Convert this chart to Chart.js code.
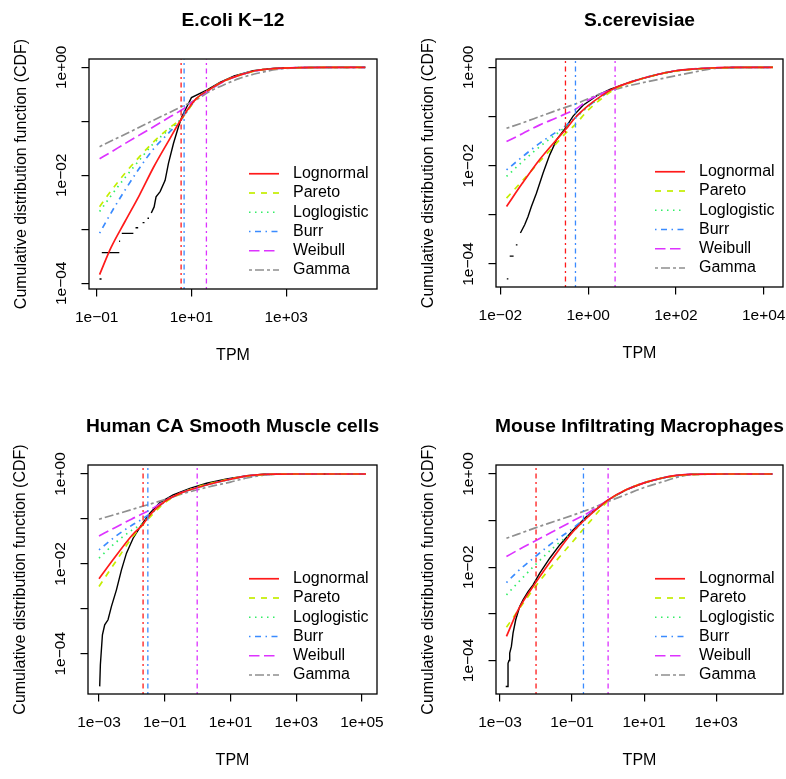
<!DOCTYPE html>
<html><head><meta charset="utf-8">
<script src="https://cdn.jsdelivr.net/npm/chart.js@4.4.1/dist/chart.umd.min.js"></script>
<style>
html,body{margin:0;padding:0;background:#fff;width:786px;height:779px;overflow:hidden;position:relative;}
canvas{position:absolute;}
</style></head><body>
<canvas id="c1"></canvas><canvas id="c2"></canvas><canvas id="c3"></canvas><canvas id="c4"></canvas>
<script>
// ---------------- DATA ----------------
const distNames = ['Lognormal','Pareto','Loglogistic','Burr','Weibull','Gamma'];
const panelTitles = ['E.coli K\u221212', 'S.cerevisiae', 'Human CA Smooth Muscle cells', 'Mouse Infiltrating Macrophages'];
const xAxisTitle = 'TPM';
const yAxisTitle = 'Cumulative distribution function (CDF)';

const cdfTicks = [1e-4, 1e-3, 1e-2, 1e-1, 1];
const cdfTickLabels = ['1e\u221204', '', '1e\u221202', '', '1e+00'];

// E.coli K-12
const ecoliXTicks = [0.1, 10, 1000];
const ecoliXTickLabels = ['1e\u221201', '1e+01', '1e+03'];
const ecoliTPM = [0.115, 0.2, 0.398, 0.794, 1.585, 3.2, 6.31, 12.6, 25.1, 50.1, 100, 251, 631, 2000, 10000, 46800];
const ecoliLognormal = [1.45e-4, 4.57e-4, 1.41e-3, 4.27e-3, 0.0141, 0.0417, 0.115, 0.263, 0.398, 0.562, 0.708, 0.881, 0.955, 0.989, 0.998, 1];
const ecoliPareto = [2.63e-3, 5.13e-3, 0.011, 0.0219, 0.0417, 0.0724, 0.115, 0.257, 0.398, 0.562, 0.708, 0.875, 0.951, 0.984, 0.9965, 1];
const ecoliLoglogistic = [2.14e-3, 4.17e-3, 9.12e-3, 0.0191, 0.0389, 0.0676, 0.115, 0.26, 0.398, 0.562, 0.708, 0.877, 0.953, 0.986, 0.997, 1];
const ecoliBurr = [8.5e-4, 2.0e-3, 5.37e-3, 0.0135, 0.0309, 0.0589, 0.112, 0.26, 0.398, 0.562, 0.708, 0.877, 0.953, 0.986, 0.997, 1];
const ecoliWeibull = [0.0202, 0.0269, 0.0389, 0.0555, 0.0794, 0.115, 0.164, 0.257, 0.389, 0.55, 0.708, 0.871, 0.955, 0.991, 0.999, 1];
const ecoliGamma = [0.0339, 0.0432, 0.0575, 0.0776, 0.105, 0.141, 0.188, 0.251, 0.363, 0.479, 0.617, 0.776, 0.912, 0.982, 0.999, 1];
const ecoliObsTPM = [0.1145, 0.1265, null, 0.128, 0.30, null, 0.297, 0.312, null, 0.338, 0.594, null, 0.66, 0.75, null, 0.93, 1.02, null, 1.18, 1.27, null, 1.42, 1.63, 1.79, 2.18, 2.78, 3.27, 4.17, 5.32, 6.27, 8.0, 10, 21, 40, 80, 200, 630, 3160, 46800];
const ecoliObsCDF = [1.2e-4, 1.2e-4, null, 3.7e-4, 3.7e-4, null, 6.0e-4, 6.0e-4, null, 8.4e-4, 8.4e-4, null, 1.07e-3, 1.07e-3, null, 1.33e-3, 1.33e-3, null, 1.6e-3, 1.6e-3, null, 2.0e-3, 2.6e-3, 4.0e-3, 5.0e-3, 8.1e-3, 0.0166, 0.0389, 0.0794, 0.1216, 0.186, 0.275, 0.38, 0.525, 0.69, 0.87, 0.972, 0.995, 1];
const ecoliVLineTPM = [6.05, 7.0, 20.7];
const ecoliVLineDist = ['Lognormal', 'Burr', 'Weibull'];

// S.cerevisiae
const yeastXTicks = [0.01, 1, 100, 10000];
const yeastXTickLabels = ['1e\u221202', '1e+00', '1e+02', '1e+04'];
const yeastTPM = [0.0138, 0.0316, 0.0794, 0.2, 0.316, 0.5, 1, 2, 3.63, 10, 40, 100, 251, 631, 2000, 16200];
const yeastLognormal = [1.48e-3, 4.37e-3, 0.0135, 0.0355, 0.0562, 0.0933, 0.166, 0.263, 0.363, 0.513, 0.724, 0.851, 0.923, 0.968, 0.993, 1];
const yeastPareto = [2.19e-3, 4.9e-3, 0.0123, 0.0302, 0.0468, 0.0676, 0.135, 0.229, 0.339, 0.501, 0.716, 0.841, 0.912, 0.959, 0.986, 0.998];
const yeastLoglogistic = [6.03e-3, 0.012, 0.0245, 0.0457, 0.0631, 0.0912, 0.158, 0.251, 0.355, 0.513, 0.724, 0.847, 0.918, 0.964, 0.989, 0.998];
const yeastBurr = [8.2e-3, 0.0151, 0.0288, 0.0501, 0.0661, 0.0955, 0.162, 0.254, 0.355, 0.513, 0.724, 0.847, 0.918, 0.964, 0.989, 0.998];
const yeastWeibull = [0.0309, 0.0447, 0.0676, 0.0955, 0.115, 0.138, 0.214, 0.288, 0.363, 0.513, 0.724, 0.851, 0.927, 0.973, 0.995, 1];
const yeastGamma = [0.0575, 0.0741, 0.1, 0.135, 0.155, 0.178, 0.229, 0.295, 0.347, 0.437, 0.569, 0.676, 0.794, 0.933, 0.991, 1];
const yeastObsTPM = [0.0140, 0.0152, null, 0.0163, 0.0200, null, 0.0225, 0.0245, null, 0.0286, 0.0358, 0.0427, 0.0509, 0.0662, 0.094, 0.133, 0.19, 0.293, 0.454, 0.767, 1.55, 3.12, 10, 40, 100, 251, 631, 2000, 16200];
const yeastObsCDF = [5.0e-5, 5.0e-5, null, 1.45e-4, 1.45e-4, null, 2.45e-4, 2.45e-4, null, 4.27e-4, 6.28e-4, 9.3e-4, 1.48e-3, 2.75e-3, 7.08e-3, 0.0166, 0.0334, 0.0562, 0.102, 0.17, 0.263, 0.355, 0.519, 0.724, 0.851, 0.923, 0.968, 0.993, 1];
const yeastVLineTPM = [0.304, 0.514, 4.11];
const yeastVLineDist = ['Lognormal', 'Burr', 'Weibull'];

// Human CA Smooth Muscle cells
const humanXTicks = [0.001, 0.1, 10, 1000, 100000];
const humanXTickLabels = ['1e\u221203', '1e\u221201', '1e+01', '1e+03', '1e+05'];
const humanTPM = [0.001, 0.00316, 0.01, 0.0209, 0.0398, 0.1, 0.316, 1, 3.16, 10, 31.6, 100, 316, 1000, 132000];
const humanLognormal = [4.65e-3, 0.0145, 0.0427, 0.0736, 0.135, 0.245, 0.38, 0.501, 0.631, 0.764, 0.904, 0.977, 0.995, 1, 1];
const humanPareto = [3.13e-3, 0.011, 0.038, 0.0724, 0.12, 0.229, 0.372, 0.513, 0.646, 0.776, 0.891, 0.966, 0.991, 0.998, 1];
const humanLoglogistic = [0.0134, 0.0295, 0.0562, 0.0794, 0.132, 0.24, 0.38, 0.501, 0.631, 0.759, 0.891, 0.966, 0.991, 0.998, 1];
const humanBurr = [0.0205, 0.0407, 0.0724, 0.1, 0.138, 0.24, 0.38, 0.501, 0.631, 0.759, 0.891, 0.966, 0.991, 0.998, 1];
const humanWeibull = [0.0419, 0.0646, 0.1, 0.13, 0.166, 0.251, 0.38, 0.501, 0.631, 0.767, 0.902, 0.977, 0.995, 1, 1];
const humanGamma = [0.0984, 0.126, 0.162, 0.191, 0.219, 0.269, 0.355, 0.447, 0.55, 0.661, 0.813, 0.944, 0.993, 1, 1];
const humanObsTPM = [1.05e-3, 1.10e-3, 1.27e-3, 1.49e-3, 1.88e-3, 2.39e-3, 3.39e-3, 4.82e-3, 6.84e-3, 0.0109, 0.0196, 0.0352, 0.071, 0.18, 0.582, 1.88, 7.66, 31.2, 100, 1000, 132000];
const humanObsCDF = [1.88e-5, 5.7e-5, 2.64e-4, 4.41e-4, 5.7e-4, 1.13e-3, 2.64e-3, 7.36e-3, 0.0173, 0.0372, 0.0736, 0.134, 0.231, 0.341, 0.48, 0.621, 0.776, 0.918, 0.989, 1, 1];
const humanVLineTPM = [0.0219, 0.0306, 0.97];
const humanVLineDist = ['Lognormal', 'Burr', 'Weibull'];

// Mouse Infiltrating Macrophages
const mouseXTicks = [0.001, 0.1, 10, 1000];
const mouseXTickLabels = ['1e\u221203', '1e\u221201', '1e+01', '1e+03'];
const mouseTPM = [1.51e-3, 3.16e-3, 0.01, 0.0316, 0.1, 0.316, 1, 3.16, 10, 31.6, 79.4, 200, 631, 3160, 36300];
const mouseLognormal = [3.27e-4, 1.2e-3, 4.79e-3, 0.017, 0.055, 0.133, 0.277, 0.457, 0.646, 0.822, 0.933, 0.982, 0.998, 1, 1];
const mousePareto = [5.13e-4, 1.17e-3, 4.0e-3, 0.0121, 0.0341, 0.0962, 0.263, 0.457, 0.646, 0.813, 0.912, 0.966, 0.989, 0.9965, 0.9993];
const mouseLoglogistic = [2.55e-3, 4.68e-3, 0.0117, 0.0271, 0.0558, 0.132, 0.275, 0.457, 0.646, 0.818, 0.923, 0.973, 0.993, 0.999, 1];
const mouseBurr = [4.69e-3, 8.22e-3, 0.0174, 0.0355, 0.0661, 0.138, 0.275, 0.457, 0.646, 0.818, 0.923, 0.973, 0.993, 0.999, 1];
const mouseWeibull = [0.0169, 0.0234, 0.0375, 0.0601, 0.0964, 0.155, 0.275, 0.457, 0.646, 0.822, 0.933, 0.984, 0.998, 1, 1];
const mouseGamma = [0.0419, 0.0513, 0.0708, 0.0955, 0.129, 0.178, 0.257, 0.363, 0.513, 0.676, 0.841, 0.968, 0.998, 1, 1];
const mouseObsTPM = [1.44e-3, 1.67e-3, 1.67e-3, 1.78e-3, 1.86e-3, 2.07e-3, 2.3e-3, 2.73e-3, 3.52e-3, 4.36e-3, 6.0e-3, 8.26e-3, 0.0127, 0.024, 0.0455, 0.107, 0.251, 0.587, 1, 3.16, 10, 31.6, 79.4, 200, 631, 36300];
const mouseObsCDF = [2.77e-5, 2.77e-5, 8.7e-5, 1.0e-4, 1.44e-4, 2.0e-4, 3.85e-4, 7.45e-4, 1.44e-3, 2.0e-3, 3.0e-3, 4.19e-3, 7.45e-3, 0.0156, 0.0301, 0.0631, 0.122, 0.2, 0.277, 0.457, 0.646, 0.822, 0.933, 0.984, 0.998, 1];
const mouseVLineTPM = [0.01, 0.207, 1.0];
const mouseVLineDist = ['Lognormal', 'Burr', 'Weibull'];

// ---------------- STYLE / LAYOUT ----------------
const FONT = "'Liberation Sans', Arial, Helvetica, sans-serif";
Chart.defaults.font.family = FONT;
Chart.defaults.color = '#000';

const styles = {
  Lognormal:   {color: '#ff1a1a', dash: []},
  Pareto:      {color: '#c4ee00', dash: [6, 6]},
  Loglogistic: {color: '#33ee66', dash: [1.5, 4.5]},
  Burr:        {color: '#3a8bff', dash: [1.5, 4.5, 6, 4.5]},
  Weibull:     {color: '#dd33ff', dash: [10.5, 4.5]},
  Gamma:       {color: '#8f8f8f', dash: [3, 3, 9, 3]}
};
const VDASH = [2, 3.5, 5, 3.5];
const YW = 89, TOPH = 59, XH = 101;
const TICK_FONT = 15.5, LABEL_FONT = 16, TITLE_FONT = 19.2;

const panels = [
  {id: 'c1', area: {l: 89, t: 59, r: 377, b: 289}, xr: [-1.163, 4.918], yr: [-4.105, 0.154], title: panelTitles[0],
   xTicks: ecoliXTicks, xLabels: ecoliXTickLabels, tpm: ecoliTPM,
   fits: {Lognormal: ecoliLognormal, Pareto: ecoliPareto, Loglogistic: ecoliLoglogistic, Burr: ecoliBurr, Weibull: ecoliWeibull, Gamma: ecoliGamma},
   obsX: ecoliObsTPM, obsY: ecoliObsCDF, vx: ecoliVLineTPM, vd: ecoliVLineDist},
  {id: 'c2', area: {l: 496, t: 59, r: 783, b: 287}, xr: [-2.1, 4.44], yr: [-4.467, 0.169], title: panelTitles[1],
   xTicks: yeastXTicks, xLabels: yeastXTickLabels, tpm: yeastTPM,
   fits: {Lognormal: yeastLognormal, Pareto: yeastPareto, Loglogistic: yeastLoglogistic, Burr: yeastBurr, Weibull: yeastWeibull, Gamma: yeastGamma},
   obsX: yeastObsTPM, obsY: yeastObsCDF, vx: yeastVLineTPM, vd: yeastVLineDist},
  {id: 'c3', area: {l: 88, t: 465, r: 377, b: 694}, xr: [-3.335, 5.457], yr: [-4.896, 0.2], title: panelTitles[2],
   xTicks: humanXTicks, xLabels: humanXTickLabels, tpm: humanTPM,
   fits: {Lognormal: humanLognormal, Pareto: humanPareto, Loglogistic: humanLoglogistic, Burr: humanBurr, Weibull: humanWeibull, Gamma: humanGamma},
   obsX: humanObsTPM, obsY: humanObsCDF, vx: humanVLineTPM, vd: humanVLineDist},
  {id: 'c4', area: {l: 496, t: 465, r: 783, b: 694}, xr: [-3.111, 4.853], yr: [-4.72, 0.193], title: panelTitles[3],
   xTicks: mouseXTicks, xLabels: mouseXTickLabels, tpm: mouseTPM,
   fits: {Lognormal: mouseLognormal, Pareto: mousePareto, Loglogistic: mouseLoglogistic, Burr: mouseBurr, Weibull: mouseWeibull, Gamma: mouseGamma},
   obsX: mouseObsTPM, obsY: mouseObsCDF, vx: mouseVLineTPM, vd: mouseVLineDist}
];

function pts(xs, ys) { return xs.map((x, i) => ({x: x, y: ys[i]})); }

// measure rotated y tick label length to center them
const mctx = document.createElement('canvas').getContext('2d');
mctx.font = TICK_FONT + 'px ' + FONT;
const widestY = Math.max(...cdfTickLabels.map(s => mctx.measureText(s).width));
const TL = 7.5;
const yTickPad = 27.5 - TL - widestY / 2;
const xTickPad = 29 - TL - TICK_FONT * 1.2 / 2;

const boxPlugin = {
  id: 'rbox',
  afterDatasetsDraw(chart) {
    const {ctx, chartArea: a} = chart;
    ctx.save();
    ctx.strokeStyle = '#000'; ctx.lineWidth = 1.3; ctx.setLineDash([]);
    ctx.strokeRect(a.left, a.top, a.right - a.left, a.bottom - a.top);
    ctx.restore();
  }
};
const legendPlugin = {
  id: 'rlegend',
  afterDraw(chart) {
    const {ctx, chartArea: a} = chart;
    ctx.save();
    ctx.font = LABEL_FONT + 'px ' + FONT;
    ctx.textBaseline = 'middle'; ctx.textAlign = 'left';
    distNames.forEach((n, i) => {
      const y = a.bottom - 19 - (distNames.length - 1 - i) * 19.25;
      const st = styles[n];
      ctx.strokeStyle = st.color; ctx.lineWidth = 1.7; ctx.setLineDash(st.dash);
      ctx.beginPath(); ctx.moveTo(a.right - 128, y); ctx.lineTo(a.right - 98, y); ctx.stroke();
      ctx.setLineDash([]);
      ctx.fillStyle = '#000';
      ctx.fillText(n, a.right - 84, y);
    });
    ctx.restore();
  }
};

function gridOpts() {
  return {display: true, drawOnChartArea: false, drawTicks: true, tickLength: TL, color: '#000', tickColor: '#000', tickWidth: 1.2, lineWidth: 1.2};
}

panels.forEach(p => {
  const W = YW * 2 + (p.area.r - p.area.l);
  const H = TOPH + (p.area.b - p.area.t) + XH;
  const cv = document.getElementById(p.id);
  cv.width = W; cv.height = H;
  cv.style.width = W + 'px'; cv.style.height = H + 'px';
  cv.style.left = (p.area.l - YW) + 'px'; cv.style.top = (p.area.t - TOPH) + 'px';
  const yMin = Math.pow(10, p.yr[0]), yMax = Math.pow(10, p.yr[1]);
  const datasets = [];
  p.vx.forEach((v, i) => datasets.push({
    label: 'v' + i, data: [{x: v, y: yMin}, {x: v, y: yMax}], showLine: true,
    borderColor: styles[p.vd[i]].color, borderWidth: 1.3, borderDash: VDASH, pointRadius: 0, fill: false
  }));
  distNames.forEach(n => datasets.push({
    label: n, data: pts(p.tpm, p.fits[n]), showLine: true, borderColor: styles[n].color,
    borderWidth: 1.7, borderDash: styles[n].dash, pointRadius: 0, fill: false, cubicInterpolationMode: 'monotone'
  }));
  datasets.push({label: 'Empirical', data: pts(p.obsX, p.obsY), showLine: true, borderColor: '#000', borderWidth: 1.4, pointRadius: 0, fill: false, spanGaps: false});

  const titlePadTop = (TOPH - 38.5) - TITLE_FONT * 1.2 / 2;
  const titlePadBottom = TOPH - titlePadTop - TITLE_FONT * 1.2;

  new Chart(cv, {
    type: 'scatter',
    data: {datasets},
    options: {
      responsive: false, animation: false, devicePixelRatio: 1, events: [],
      layout: {padding: 0},
      plugins: {
        legend: {display: false}, tooltip: {enabled: false},
        title: {display: true, text: p.title, color: '#000', fullSize: true,
                font: {size: TITLE_FONT, weight: 'bold'}, padding: {top: titlePadTop, bottom: titlePadBottom}}
      },
      scales: {
        x: {
          type: 'logarithmic', position: 'bottom',
          min: Math.pow(10, p.xr[0]), max: Math.pow(10, p.xr[1]),
          afterBuildTicks: s => { s.ticks = p.xTicks.map(v => ({value: v})); },
          afterFit: s => { s.height = XH; },
          ticks: {callback: (v, i) => p.xLabels[i], font: {size: TICK_FONT}, color: '#000', padding: xTickPad, minRotation: 0, maxRotation: 0, autoSkip: false},
          grid: gridOpts(), border: {display: false},
          title: {display: true, text: xAxisTitle, color: '#000', font: {size: LABEL_FONT}, padding: {top: 0, bottom: 101 - 67 - LABEL_FONT * 0.6}}
        },
        y: {
          type: 'logarithmic', position: 'left',
          min: yMin, max: yMax,
          afterBuildTicks: s => { s.ticks = cdfTicks.map(v => ({value: v})); },
          afterFit: s => { s.width = YW; },
          ticks: {callback: (v, i) => cdfTickLabels[i], font: {size: TICK_FONT}, color: '#000', padding: yTickPad, minRotation: 90, maxRotation: 90, crossAlign: 'center', autoSkip: false},
          grid: gridOpts(), border: {display: false},
          title: {display: true, text: yAxisTitle, color: '#000', font: {size: LABEL_FONT}, padding: {top: (YW - 67) - LABEL_FONT * 0.6, bottom: 0}}
        },
        yRight: {
          type: 'linear', position: 'right', display: true,
          grid: {display: false}, border: {display: false}, ticks: {display: false},
          afterFit: s => { s.width = YW; }
        }
      }
    },
    plugins: [boxPlugin, legendPlugin]
  });
});
</script>
</body></html>
